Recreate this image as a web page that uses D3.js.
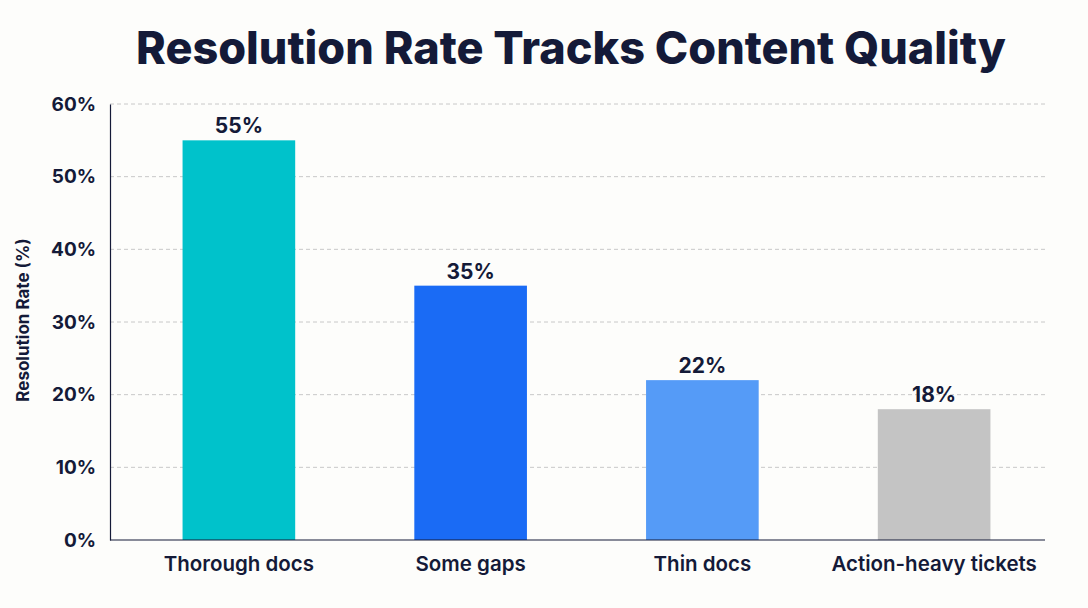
<!DOCTYPE html>
<html><head><meta charset="utf-8">
<script src="https://cdn.jsdelivr.net/npm/d3@7"></script>
<style>body{margin:0;background:#fdfdfb;}svg{display:block;font-family:Inter,"Open Sans",sans-serif;}</style>
</head><body><svg id="c" width="1088" height="608"></svg>
<script>
const categories = ["Thorough docs","Some gaps","Thin docs","Action-heavy tickets"];
const values = [55,35,22,18];
const colors = ["#00c2cb","#1a6bf5","#559bf7","#c4c4c4"];
const ticks = [0,10,20,30,40,50,60];

const svg = d3.select("#c");
svg.append("rect").attr("width",1088).attr("height",608).attr("fill","#fdfdfb");
const x = d3.scaleBand().domain(categories).range([123,1050]).paddingInner(0.514).paddingOuter(0.257);
const y = d3.scaleLinear().domain([0,60]).range([540,104]);
const ink = "#141a38";

svg.append("text").attr("x",571).attr("y",64).attr("text-anchor","middle")
  .attr("font-size",45).attr("font-weight",800).attr("fill",ink).text("Resolution Rate Tracks Content Quality");

svg.append("g").selectAll("line").data(ticks.filter(t=>t>0)).join("line")
  .attr("x1",110).attr("x2",1045).attr("y1",d=>y(d)).attr("y2",d=>y(d))
  .attr("stroke","#c8c8c8").attr("stroke-dasharray","4,3").attr("stroke-width",1);

svg.append("g").selectAll("rect").data(values).join("rect")
  .attr("x",(d,i)=>x(categories[i])).attr("width",x.bandwidth())
  .attr("y",d=>y(d)).attr("height",d=>y(0)-y(d)).attr("fill",(d,i)=>colors[i]);

svg.append("g").selectAll("text").data(values).join("text")
  .attr("x",(d,i)=>x(categories[i])+x.bandwidth()/2).attr("y",d=>y(d)-7)
  .attr("text-anchor","middle").attr("font-size",21).attr("font-weight",700).attr("fill",ink)
  .text(d=>d+"%");

const ya = svg.append("g").attr("transform","translate(110,0)")
  .call(d3.axisLeft(y).tickValues(ticks).tickFormat(d=>d+"%").tickSize(0).tickPadding(14));
ya.select(".domain").attr("stroke",ink).attr("stroke-width",1.2);
ya.selectAll("text").attr("font-size",19).attr("font-weight",700).attr("fill",ink).attr("font-family","Inter,sans-serif");

const xa = svg.append("g").attr("transform","translate(0,540)")
  .call(d3.axisBottom(x).tickSize(0).tickPadding(16));
xa.select(".domain").attr("d","M110,0H1045").attr("stroke",ink).attr("stroke-width",1.2);
xa.selectAll("text").attr("font-size",20.5).attr("font-weight",600).attr("fill",ink).attr("font-family","Inter,sans-serif");

svg.append("text").attr("transform","translate(29,320) rotate(-90)").attr("text-anchor","middle")
  .attr("font-size",17).attr("font-weight",700).attr("fill",ink).text("Resolution Rate (%)");
</script></body></html>
